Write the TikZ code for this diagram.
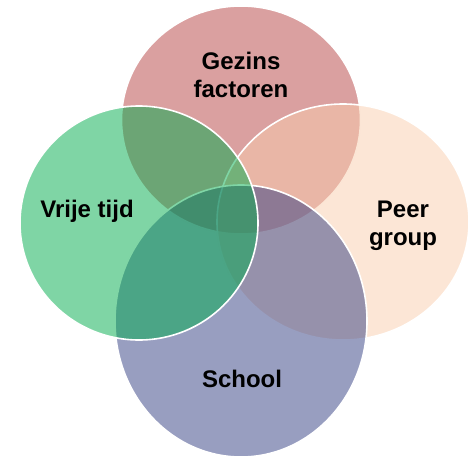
\documentclass[tikz,border=0pt]{standalone}
\usepackage{fontspec}
\setmainfont{Liberation Sans}

\definecolor{gezinsrood}{RGB}{181,65,65}
\definecolor{peerperzik}{RGB}{249,205,173}
\definecolor{schoolpaars}{RGB}{50,62,130}
\definecolor{vrijgroen}{RGB}{0,172,76}

\begin{document}
\begin{tikzpicture}[x=1pt, y=-1pt, >=stealth,
    venn/.style={draw=white, line width=1.6pt, fill opacity=0.5},
    venntext/.style={align=center, text=black, font=\fontsize{24}{28}\selectfont\bfseries}]
        \useasboundingbox (0,0) rectangle (470,458);

        % cirkels (volgorde: rood, perzik, paars, groen)
        \draw[venn, fill=gezinsrood] (241,120) ellipse [x radius=119.5, y radius=114];
        \draw[venn, fill=peerperzik] (343,222) ellipse [x radius=126, y radius=118];
        \draw[venn, fill=schoolpaars] (241,321) ellipse [x radius=126, y radius=136];
        \draw[venn, fill=vrijgroen] (139,223) ellipse [x radius=119, y radius=117];

        % teksten
        \node[venntext] (gezins) at (241,75) {Gezins\\factoren};
        \node[venntext] (vrij) at (87,211) {Vrije tijd};
        \node[venntext] (peer) at (403,226) {Peer\\group};
        \node[venntext] (school) at (242,379) {School};
\end{tikzpicture}
\end{document}
